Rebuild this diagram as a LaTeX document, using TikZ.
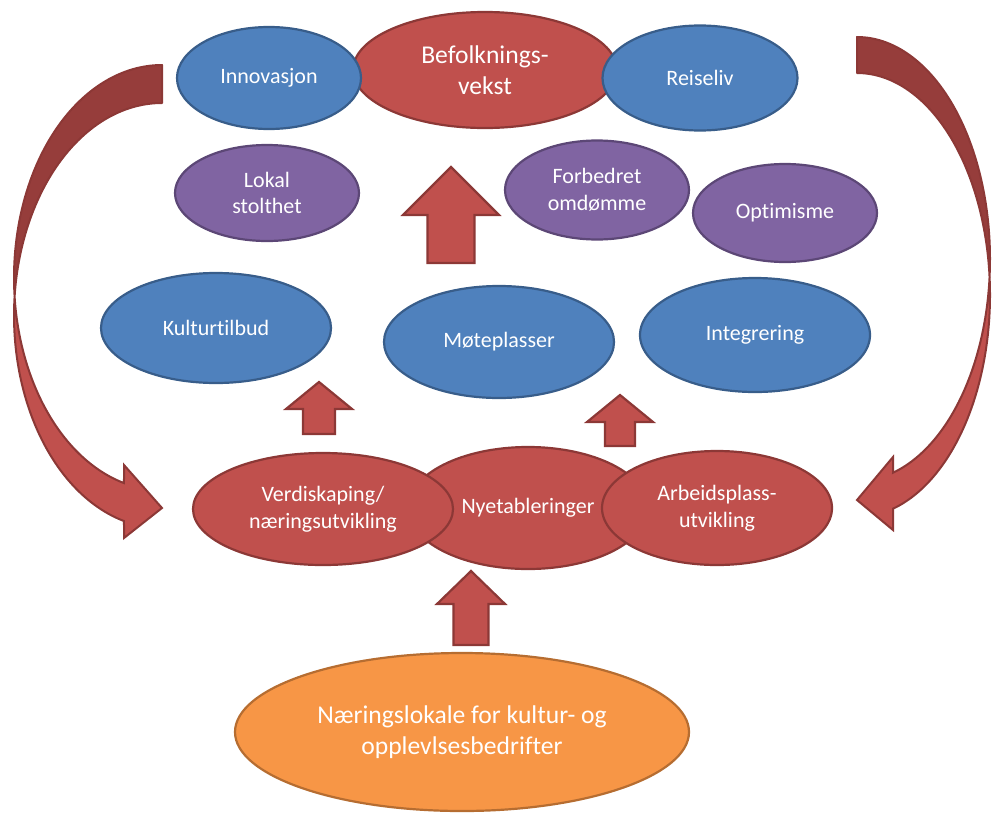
\documentclass[tikz,border=0pt]{standalone}
\usepackage{fontspec}
\setmainfont{Carlito}[RawFeature={-liga;-clig}]
\usetikzlibrary{shapes.geometric}
\definecolor{redfill}{HTML}{C0504D}
\definecolor{redline}{HTML}{8C3836}
\definecolor{reddark}{HTML}{963D3B}
\definecolor{bluefill}{HTML}{4F81BD}
\definecolor{blueline}{HTML}{385D8A}
\definecolor{purplefill}{HTML}{8064A2}
\definecolor{purpleline}{HTML}{5C4776}
\definecolor{orangefill}{HTML}{F79646}
\definecolor{orangeline}{HTML}{B66D31}
\tikzset{
  oval/.style={ellipse, inner sep=0pt, line width=2.2pt, text=white, align=center,
    font=\fontsize{22}{26.8}\selectfont},
  redoval/.style={oval, fill=redfill, draw=redline},
  blueoval/.style={oval, fill=bluefill, draw=blueline},
  purpleoval/.style={oval, fill=purplefill, draw=purpleline},
  orangeoval/.style={oval, fill=orangefill, draw=orangeline},
  bigtext/.style={font=\fontsize{25.6}{31}\selectfont},
  blockarrow/.style={fill=redfill, draw=redline, line width=2.2pt, line join=miter},
  backarrow/.style={fill=reddark, draw=redline, line width=2pt, line join=round},
  frontarrow/.style={fill=redfill, draw=redline, line width=2pt, line join=miter},
}
% up block arrow: tip x, tip y, head base y, head half width, shaft half width, bottom y
\newcommand\blockup[6]{%
  \draw[blockarrow] (#1,#2) -- (#1+#4,#3) -- (#1+#5,#3) -- (#1+#5,#6)
    -- (#1-#5,#6) -- (#1-#5,#3) -- (#1-#4,#3) -- cycle;}
\begin{document}
\begin{tikzpicture}[x=1pt,y=-1pt]
\useasboundingbox (0,0) rectangle (992,814);

% left curved arrow
\draw[backarrow] plot[domain=-90:-185.13, samples=60] ({162+148*cos(\x)}, {277.6+212.6*sin(\x)})
  -- plot[domain=-174.87:-90, samples=60] ({162+148*cos(\x)}, {315.6+212.6*sin(\x)}) -- cycle;
\draw[frontarrow] plot[domain=185.13:104.88, samples=60] ({162+148*cos(\x)}, {315.6+212.6*sin(\x)})
  -- (124,538) -- (162,508) -- (124,465)
  -- plot[domain=104.88:174.87, samples=60] ({162+148*cos(\x)}, {277.6+212.6*sin(\x)}) -- cycle;

% right curved arrow
\draw[backarrow] plot[domain=-90:4.65, samples=60] ({857+133*cos(\x)}, {259+222*sin(\x)})
  -- plot[domain=-4.65:-90, samples=60] ({857+133*cos(\x)}, {295+222*sin(\x)}) -- cycle;
\draw[frontarrow] plot[domain=-4.65:74.3, samples=60] ({857+133*cos(\x)}, {295+222*sin(\x)})
  -- (893,530) -- (857,500) -- (893,457)
  -- plot[domain=74.3:4.65, samples=60] ({857+133*cos(\x)}, {259+222*sin(\x)}) -- cycle;

% top row
\node[redoval, bigtext, minimum width=264pt, minimum height=116pt] (befolk) at (485,70) {Befolknings-\\vekst};
\node[blueoval, minimum width=184pt, minimum height=102pt] (innov) at (269,78) {Innovasjon};
\node[blueoval, minimum width=195pt, minimum height=105pt] (reise) at (700,78) {Reiseliv};

% purple row
\node[purpleoval, minimum width=184pt, minimum height=96pt] (lokal) at (267,193) {Lokal\\stolthet};
\node[purpleoval, minimum width=184pt, minimum height=99pt] (forb) at (597,190) {Forbedret\\omdømme};
\node[purpleoval, minimum width=184pt, minimum height=98pt] (optim) at (785,213) {Optimisme};

% big up arrow
\blockup{451}{167}{215}{48}{23.5}{263}

% blue middle row
\node[blueoval, minimum width=230pt, minimum height=110pt] (kultur) at (216,328) {Kulturtilbud};
\node[blueoval, minimum width=230pt, minimum height=112pt] (mote) at (499,342) {Møteplasser};
\node[blueoval, minimum width=230pt, minimum height=114pt] (integr) at (755,335) {Integrering};

% small up arrows
\blockup{319}{382}{409}{33}{16}{434}
\blockup{620}{395}{422}{33}{15}{446}

% bottom red row
\node[redoval, minimum width=240pt, minimum height=122pt] (nye) at (528,508) {Nyetableringer};
\node[redoval, minimum width=260pt, minimum height=112pt] (verdi) at (323,509) {Verdiskaping/\\næringsutvikling};
\node[redoval, minimum width=230pt, minimum height=114pt] (arbeid) at (717,508) {Arbeidsplass-\\utvikling};

% bottom up arrow
\blockup{471}{571}{604}{34}{17.5}{645}

% orange
\node[orangeoval, bigtext, minimum width=454pt, minimum height=158pt] (naer) at (462,732) {Næringslokale for kultur- og\\opplevlsesbedrifter};
\end{tikzpicture}
\end{document}
